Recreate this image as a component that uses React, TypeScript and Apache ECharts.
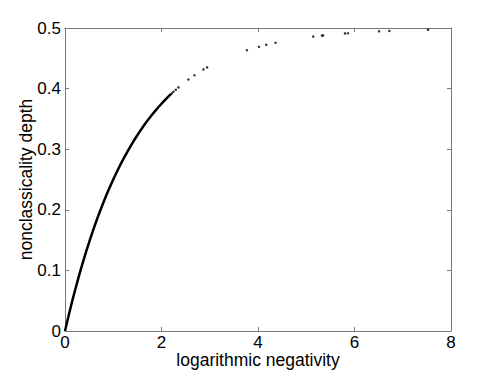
import React, { useEffect, useRef } from "react";
import * as echarts from "echarts";

// dense part of the curve (reads as a thick line)
const denseX = [0, 0.05, 0.1, 0.15, 0.2, 0.3, 0.4, 0.5, 0.6, 0.7, 0.8, 0.9, 1.0, 1.1, 1.2, 1.3, 1.4, 1.5, 1.6, 1.7, 1.8, 1.9, 2.0, 2.1, 2.2];
const denseY = [0, 0.017, 0.0335, 0.0494, 0.0647, 0.0939, 0.1211, 0.1464, 0.1701, 0.1922, 0.2128, 0.2321, 0.25, 0.2667, 0.2824, 0.2969, 0.3105, 0.3232, 0.3351, 0.3461, 0.3564, 0.366, 0.375, 0.3834, 0.3912];

// isolated points
const sparseX = [2.214, 2.247, 2.297, 2.351, 2.558, 2.683, 2.869, 2.946, 3.77, 4.019, 4.17, 4.363, 5.145, 5.326, 5.347, 5.803, 5.865, 6.508, 6.722, 7.525];
const sparseY = [0.392, 0.3947, 0.398, 0.402, 0.415, 0.422, 0.4316, 0.435, 0.4633, 0.469, 0.4722, 0.4757, 0.4858, 0.4875, 0.4877, 0.491, 0.4914, 0.4945, 0.4952, 0.4973];

const xTicks = { min: 0, max: 8, interval: 2 };
const yTicks = { min: 0, max: 0.5, interval: 0.1 };

const FONT = "Liberation Sans, Arial, Helvetica, sans-serif";
const AXIS_COLOR = "#777";

export default function App() {
  const ref = useRef<HTMLDivElement>(null);
  useEffect(() => {
    if (!ref.current) return;
    const chart = echarts.init(ref.current, undefined, { renderer: "svg" });
    const axisCommon = {
      axisLine: { show: true, onZero: false, lineStyle: { color: AXIS_COLOR, width: 1 } },
      axisTick: { show: true, inside: true, length: 4, lineStyle: { color: AXIS_COLOR } },
      splitLine: { show: false },
    };
    chart.setOption({
      animation: false,
      backgroundColor: "#fff",
      grid: { left: 65, right: 47, top: 28, bottom: 44 },
      xAxis: [
        {
          type: "value",
          ...xTicks,
          ...axisCommon,
          name: "logarithmic negativity",
          nameLocation: "middle",
          nameGap: 20,
          nameMoveOverlap: false,
          nameTextStyle: { fontFamily: FONT, fontSize: 17.5, lineHeight: 18, color: "#000" },
          axisLabel: { fontFamily: FONT, fontSize: 17, lineHeight: 16, color: "#000", margin: 3 },
        },
        {
          type: "value",
          position: "top",
          ...xTicks,
          ...axisCommon,
          axisLabel: { show: false },
        },
      ],
      yAxis: [
        {
          type: "value",
          ...yTicks,
          ...axisCommon,
          name: "nonclassicality depth",
          nameLocation: "middle",
          nameGap: 30,
          nameMoveOverlap: false,
          nameTextStyle: { fontFamily: FONT, fontSize: 17.5, color: "#000" },
          axisLabel: { fontFamily: FONT, fontSize: 17, color: "#000", margin: 4 },
        },
        {
          type: "value",
          position: "right",
          ...yTicks,
          ...axisCommon,
          axisLabel: { show: false },
        },
      ],
      series: [
        {
          type: "line",
          data: denseX.map((x, i) => [x, denseY[i]]),
          smooth: true,
          showSymbol: false,
          lineStyle: { color: "#000", width: 2.5 },
          z: 3,
        },
        {
          type: "scatter",
          data: sparseX.map((x, i) => [x, sparseY[i]]),
          symbolSize: 2.5,
          itemStyle: { color: "#000" },
          z: 3,
        },
      ],
    });
    return () => chart.dispose();
  }, []);
  return <div ref={ref} style={{ position: "fixed", left: 0, top: 0, width: 498, height: 375 }} />;
}
